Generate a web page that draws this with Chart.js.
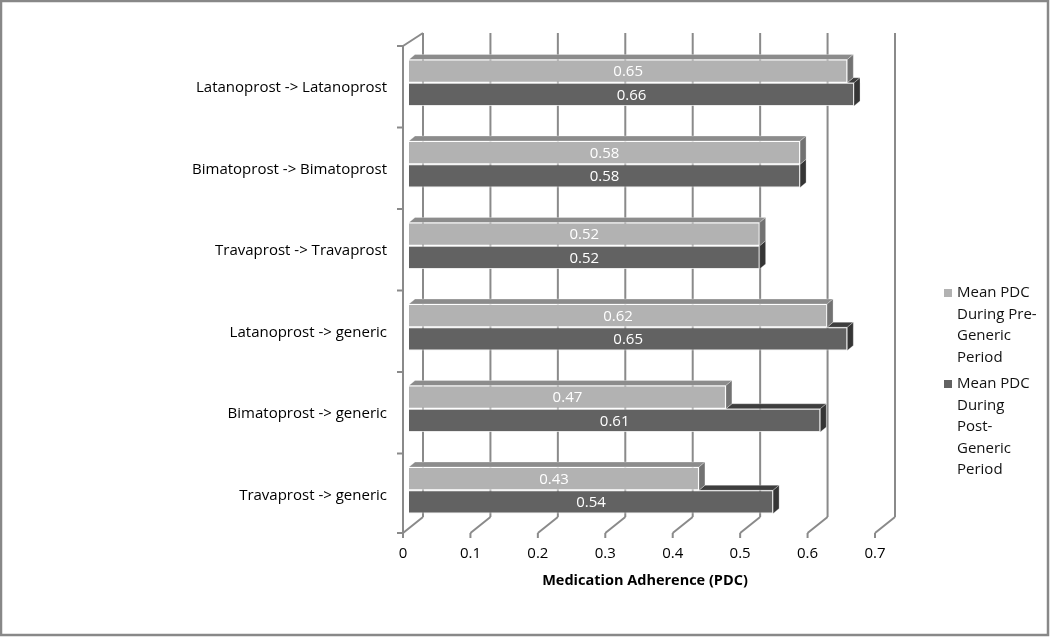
<!DOCTYPE html>
<html>
<head>
<meta charset="utf-8">
<script src="https://cdn.jsdelivr.net/npm/chart.js@4/dist/chart.umd.min.js"></script>
<style>
html,body{margin:0;padding:0;background:#fff;}
#wrap{width:1050px;height:637px;position:relative;}
</style>
</head>
<body>
<div id="wrap"><canvas id="c" width="1050" height="637"></canvas></div>
<script>
const categories = [
  'Latanoprost -> Latanoprost',
  'Bimatoprost -> Bimatoprost',
  'Travaprost -> Travaprost',
  'Latanoprost -> generic',
  'Bimatoprost -> generic',
  'Travaprost -> generic'
];
const preGeneric = [0.65, 0.58, 0.52, 0.62, 0.47, 0.43];
const postGeneric = [0.66, 0.58, 0.52, 0.65, 0.61, 0.54];
const preLegend = ['Mean PDC', 'During Pre-', 'Generic', 'Period'];
const postLegend = ['Mean PDC', 'During', 'Post-', 'Generic', 'Period'];
const xTickLabels = ['0', '0.1', '0.2', '0.3', '0.4', '0.5', '0.6', '0.7'];
const axisTitle = 'Medication Adherence (PDC)';

const FONT = '"Open Sans", "Noto Sans", sans-serif';
const COL = {
  pre:  {front: '#b2b2b2', top: '#8c8c8c', side: '#727272'},
  post: {front: '#626262', top: '#3e3e3e', side: '#353535'},
  grid: '#8a8a8a'
};
const BAR3D = {dx: 6, dy: -5};

function line(ctx, x1, y1, x2, y2) {
  ctx.beginPath(); ctx.moveTo(x1, y1); ctx.lineTo(x2, y2); ctx.stroke();
}
function poly(ctx, pts, color) {
  ctx.beginPath();
  ctx.moveTo(pts[0][0], pts[0][1]);
  for (let i = 1; i < pts.length; i++) ctx.lineTo(pts[i][0], pts[i][1]);
  ctx.closePath();
  ctx.fillStyle = color; ctx.fill();
  ctx.strokeStyle = 'rgba(255,255,255,0.35)'; ctx.lineWidth = 0.8; ctx.stroke();
}

const wallsPlugin = {
  id: 'walls',
  beforeDatasetsDraw(chart) {
    const {ctx, chartArea: a, scales: {x, y}} = chart;
    ctx.save();
    ctx.strokeStyle = COL.grid;
    ctx.lineWidth = 2;
    const frontTop = a.top + 4, frontBot = a.bottom + 2;
    const backTop = a.top - 9, backBot = a.bottom - 14;
    const fdx = -6, bdx = 14;
    x.ticks.forEach((t, i) => {
      const px = x.getPixelForTick(i);
      line(ctx, px + bdx, backTop, px + bdx, backBot);          // back wall
      line(ctx, px + fdx, frontBot, px + bdx, backBot);         // floor
      line(ctx, px + fdx, frontBot, px + fdx, frontBot + 5);    // stub
    });
    // left wall front edge
    const lx = x.getPixelForValue(0) + fdx;
    line(ctx, lx, frontTop, lx, frontBot);
    line(ctx, lx, frontTop, lx + 20, backTop);
    // category boundary ticks
    const n = y.ticks.length;
    const band = (a.bottom - a.top) / n;
    for (let k = 0; k <= n; k++) {
      const yy = Math.min(Math.max(a.top + k * band + 4, frontTop), frontBot);
      line(ctx, lx - 6, yy, lx, yy);
    }
    ctx.restore();
  },
  beforeDatasetDraw(chart, args) {
    const {ctx} = chart;
    const idx = args.index;
    const meta = args.meta;
    const c = idx === 0 ? COL.pre : COL.post;
    const other = chart.getDatasetMeta(0);
    ctx.save();
    meta.data.forEach((el, i) => {
      const xe = el.x, x0 = el.base;
      const t = el.y - el.height / 2, b = el.y + el.height / 2;
      const {dx, dy} = BAR3D;
      let xs = x0;
      if (idx === 1) xs = Math.max(x0, other.data[i].x);
      if (xe > xs) {
        poly(ctx, [[xs, t], [xe, t], [xe + dx, t + dy], [xs + dx, t + dy]], c.top);
      }
      poly(ctx, [[xe, t], [xe + dx, t + dy], [xe + dx, b + dy], [xe, b]], c.side);
    });
    ctx.restore();
  },
  afterDatasetsDraw(chart) {
    const {ctx} = chart;
    ctx.save();
    ctx.fillStyle = '#ffffff';
    ctx.font = '15px ' + FONT;
    ctx.textAlign = 'center';
    ctx.textBaseline = 'middle';
    chart.data.datasets.forEach((ds, di) => {
      chart.getDatasetMeta(di).data.forEach((el, i) => {
        ctx.fillText(ds.data[i].toFixed(2), (el.x + el.base) / 2, el.y + 1);
      });
    });
    ctx.restore();
  },
  afterDraw(chart) {
    const {ctx} = chart;
    ctx.save();
    // legend
    ctx.font = '15px ' + FONT;
    ctx.textAlign = 'left';
    ctx.textBaseline = 'middle';
    const items = [
      {lines: preLegend, color: COL.pre.front, y0: 293},
      {lines: postLegend, color: COL.post.front, y0: 384}
    ];
    items.forEach(it => {
      ctx.fillStyle = it.color;
      ctx.fillRect(944, it.y0 - 4, 8, 8);
      ctx.fillStyle = '#111';
      it.lines.forEach((s, k) => ctx.fillText(s, 957, it.y0 + k * 21.5));
    });
    // outer border
    ctx.strokeStyle = '#888';
    ctx.lineWidth = 2.5;
    ctx.strokeRect(1, 1, 1047, 634);
    ctx.restore();
  }
};

new Chart(document.getElementById('c'), {
  type: 'bar',
  data: {
    labels: categories,
    datasets: [
      {label: preLegend.join(' '), data: preGeneric, backgroundColor: COL.pre.front,
       borderColor: 'rgba(255,255,255,0.75)', borderWidth: 1},
      {label: postLegend.join(' '), data: postGeneric, backgroundColor: COL.post.front,
       borderColor: 'rgba(230,230,230,0.8)', borderWidth: 1}
    ]
  },
  options: {
    indexAxis: 'y',
    responsive: false,
    devicePixelRatio: 1,
    animation: false,
    categoryPercentage: 0.57,
    barPercentage: 1.0,
    layout: {padding: {left: 0, right: 169, top: 42, bottom: 0}},
    plugins: {legend: {display: false}, tooltip: {enabled: false}},
    scales: {
      x: {
        min: 0, max: 0.7,
        grid: {display: false, drawTicks: false},
        border: {display: false},
        ticks: {
          stepSize: 0.1, labelOffset: -6, padding: 14, color: '#000',
          font: {size: 15, family: FONT},
          callback: (v, i) => xTickLabels[i]
        },
        title: {display: true, text: axisTitle, color: '#000',
          font: {size: 14.5, weight: 'bold', family: FONT}, padding: {top: 0, bottom: 47}},
        afterFit(s) { s.height = 106; }
      },
      y: {
        grid: {display: false, drawTicks: false},
        border: {display: false},
        ticks: {padding: 22, labelOffset: 5, color: '#000', font: {size: 15, family: FONT}},
        afterFit(s) { s.width = 409; }
      }
    }
  },
  plugins: [wallsPlugin]
});
</script>
</body>
</html>
